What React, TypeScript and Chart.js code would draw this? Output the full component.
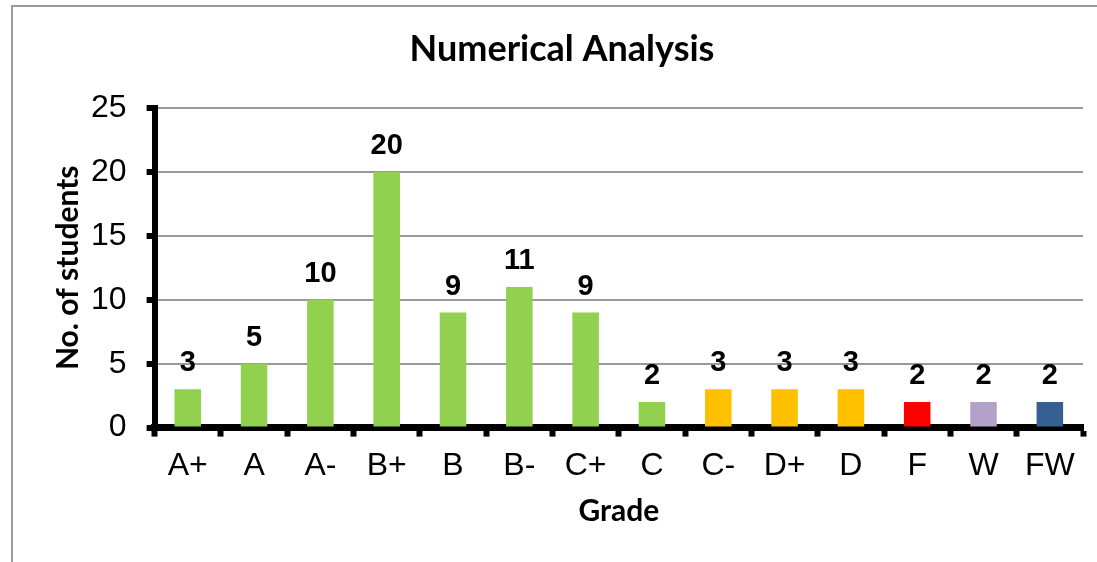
import { useEffect, useRef } from "react";
import { Chart, registerables } from "chart.js";

Chart.register(...registerables);

const grades = ["A+", "A", "A-", "B+", "B", "B-", "C+", "C", "C-", "D+", "D", "F", "W", "FW"];
const students = [3, 5, 10, 20, 9, 11, 9, 2, 3, 3, 3, 2, 2, 2];
const barColors = [
  "#92D050", "#92D050", "#92D050", "#92D050", "#92D050", "#92D050", "#92D050", "#92D050",
  "#FFC000", "#FFC000", "#FFC000",
  "#FF0000", "#B3A2C7", "#376092",
];
const yTicks = [0, 5, 10, 15, 20, 25];

const chartTitle = "Numerical Analysis";
const xTitle = "Grade";
const yTitle = "No. of students";

const barLabelPlugin = {
  id: "barLabels",
  afterDatasetsDraw(chart: any) {
    const ctx = chart.ctx;
    const meta = chart.getDatasetMeta(0);
    ctx.save();
    ctx.font = "bold 29px 'Liberation Sans', Arial, sans-serif";
    ctx.fillStyle = "#000";
    ctx.textAlign = "center";
    ctx.textBaseline = "alphabetic";
    meta.data.forEach((bar: any, i: number) => {
      ctx.fillText(String(students[i]), bar.x, bar.y - 18);
    });
    ctx.restore();
  },
};

const titlePlugin = {
  id: "chartTitleText",
  afterDraw(chart: any) {
    const ctx = chart.ctx;
    ctx.save();
    ctx.font = "bold 36px Lato, 'Open Sans', sans-serif";
    ctx.fillStyle = "#000";
    ctx.textAlign = "center";
    ctx.textBaseline = "middle";
    ctx.fillText(chartTitle, 562, 49);
    ctx.restore();
  },
};

export default function App() {
  const canvasRef = useRef<HTMLCanvasElement | null>(null);

  useEffect(() => {
    const canvas = canvasRef.current;
    if (!canvas) return;
    const tickFont = { family: "'Liberation Sans', Arial, sans-serif", size: 32 };
    const titleFont = { family: "Lato, 'Open Sans', sans-serif", size: 30, weight: "bold" as const };
    const chart = new Chart(canvas, {
      type: "bar",
      data: {
        labels: grades,
        datasets: [
          {
            data: students,
            backgroundColor: barColors,
            borderWidth: 0,
            barPercentage: 0.4,
            categoryPercentage: 1,
          },
        ],
      },
      options: {
        animation: false,
        responsive: false,
        devicePixelRatio: 1,
        layout: { padding: { left: 20, right: 14, top: 108, bottom: 0 } },
        plugins: {
          legend: { display: false },
          tooltip: { enabled: false },
          title: { display: false },
        },
        scales: {
          x: {
            offset: true,
            z: 1,
            ticks: { font: tickFont, color: "#000", padding: 10 },
            grid: {
              display: true,
              drawOnChartArea: false,
              offset: true,
              color: "#000",
              tickColor: "#000",
              tickWidth: 6,
              tickLength: 9,
            },
            border: { display: true, color: "#000", width: 7 },
            title: {
              display: true,
              text: xTitle,
              color: "#000",
              font: titleFont,
              padding: { top: -2, bottom: 33 },
            },
          },
          y: {
            min: 0,
            max: 25,
            afterBuildTicks: (scale: any) => {
              scale.ticks = yTicks.map((v) => ({ value: v }));
            },
            ticks: { font: tickFont, color: "#000", padding: 20 },
            grid: {
              color: "#999999",
              lineWidth: 2,
              tickColor: "#000",
              tickWidth: 6,
              tickLength: 8,
            },
            border: { display: true, color: "#000", width: 6 },
            title: {
              display: true,
              text: yTitle,
              color: "#000",
              font: titleFont,
              padding: { top: 30, bottom: -15 },
            },
          },
        },
      },
      plugins: [barLabelPlugin, titlePlugin],
    });
    return () => chart.destroy();
  }, []);

  return (
    <div
      style={{
        position: "fixed",
        left: 0,
        top: 0,
        width: 1097,
        height: 562,
        overflow: "hidden",
        background: "#fff",
      }}
    >
      <div
        style={{
          position: "absolute",
          left: 11,
          top: 5,
          width: 1300,
          height: 800,
          border: "2px solid #9c9c9c",
          boxSizing: "border-box",
        }}
      />
      <canvas
        ref={canvasRef}
        width={1097}
        height={562}
        style={{ position: "absolute", left: 0, top: 0, display: "block" }}
      />
    </div>
  );
}
